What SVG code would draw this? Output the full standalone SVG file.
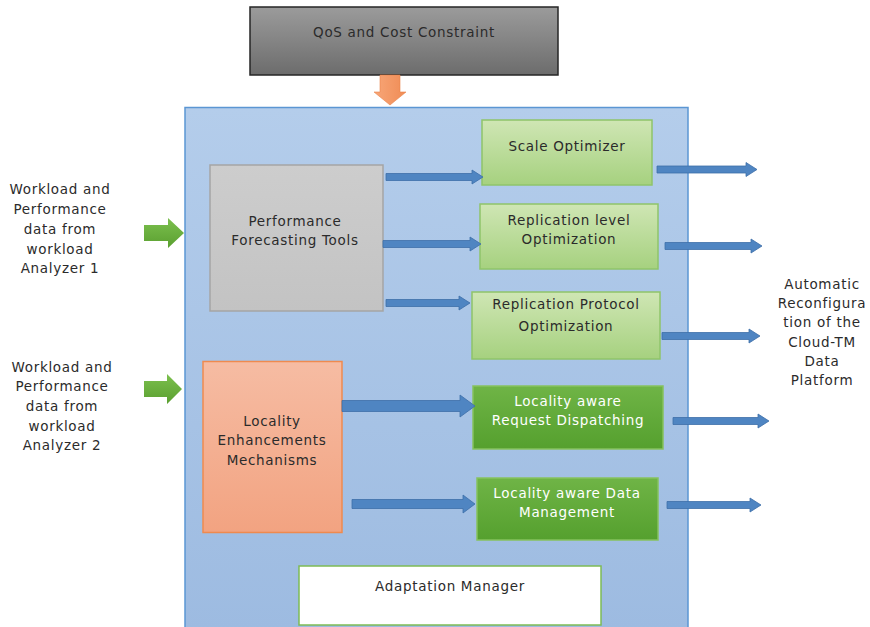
<svg xmlns="http://www.w3.org/2000/svg" width="870" height="627" viewBox="0 0 870 627">
  <defs>
    <linearGradient id="gTop" x1="0" y1="0" x2="0" y2="1">
      <stop offset="0" stop-color="#9b9b9b"/>
      <stop offset="0.5" stop-color="#848484"/>
      <stop offset="1" stop-color="#6c6c6c"/>
    </linearGradient>
    <linearGradient id="gFrame" x1="0" y1="0" x2="0" y2="1">
      <stop offset="0" stop-color="#b4cdeb"/>
      <stop offset="1" stop-color="#9dbbe1"/>
    </linearGradient>
    <linearGradient id="gLight" x1="0" y1="0" x2="0" y2="1">
      <stop offset="0" stop-color="#cfe6b4"/>
      <stop offset="1" stop-color="#a6d17f"/>
    </linearGradient>
    <linearGradient id="gDark" x1="0" y1="0" x2="0" y2="1">
      <stop offset="0" stop-color="#6fb446"/>
      <stop offset="1" stop-color="#55a02e"/>
    </linearGradient>
    <linearGradient id="gOrange" x1="0" y1="0" x2="0" y2="1">
      <stop offset="0" stop-color="#f6bca3"/>
      <stop offset="1" stop-color="#f2a381"/>
    </linearGradient>
    <linearGradient id="gGray" x1="0" y1="0" x2="0" y2="1">
      <stop offset="0" stop-color="#cdcdcd"/>
      <stop offset="1" stop-color="#c3c3c3"/>
    </linearGradient>
    <linearGradient id="gIn" x1="0" y1="0" x2="0" y2="1">
      <stop offset="0" stop-color="#7cc04e"/>
      <stop offset="1" stop-color="#5a9f30"/>
    </linearGradient>
    <linearGradient id="gDown" x1="0" y1="0" x2="1" y2="0">
      <stop offset="0" stop-color="#f7a678"/>
      <stop offset="1" stop-color="#f08c55"/>
    </linearGradient>
  </defs>
  <style>
    text { font-family: "DejaVu Sans", "Liberation Sans", sans-serif; font-size: 13.5px; letter-spacing: 0.7px; fill: #2b2b2b; text-anchor: middle; }
    .wt { fill: #ffffff; }
    .light { fill: url(#gLight); stroke: #8fc46a; stroke-width: 1.5; }
    .dark { fill: url(#gDark); stroke: #86c25e; stroke-width: 1.5; }
    .blue { fill: #4f85c2; stroke: #3d6fa8; stroke-width: 0.8; }
    .green { fill: url(#gIn); stroke: none; }
  </style>

  <rect width="870" height="627" fill="#ffffff"/>

  <!-- outer adaptation block -->
  <g id="frame">
    <rect x="185" y="107.5" width="503" height="522" fill="url(#gFrame)" stroke="#5b96d3" stroke-width="1.5"/>
  </g>

  <g id="qos">
    <rect x="250" y="7" width="308" height="68" fill="url(#gTop)" stroke="#262626" stroke-width="1.5"/>
    <text x="404" y="37">QoS and Cost Constraint</text>
  </g>

  <g id="forecasting">
    <rect x="210" y="165" width="173" height="146" fill="url(#gGray)" stroke="#a5a5a5" stroke-width="1.5"/>
    <text x="295" y="226">Performance</text>
    <text x="295" y="245">Forecasting Tools</text>
  </g>

  <g id="locality">
    <rect x="203" y="361.5" width="139" height="171" fill="url(#gOrange)" stroke="#ef8a4f" stroke-width="1.5"/>
    <text x="272" y="426">Locality</text>
    <text x="272" y="445">Enhancements</text>
    <text x="272" y="465">Mechanisms</text>
  </g>

  <g id="scale">
    <rect x="482" y="120" width="170" height="65" class="light"/>
    <text x="567" y="151">Scale Optimizer</text>
  </g>

  <g id="replevel">
    <rect x="480" y="204" width="178" height="65" class="light"/>
    <text x="569" y="225">Replication level</text>
    <text x="569" y="244">Optimization</text>
  </g>

  <g id="repproto">
    <rect x="472" y="292" width="188" height="67" class="light"/>
    <text x="566" y="309">Replication Protocol</text>
    <text x="566" y="331">Optimization</text>
  </g>

  <g id="dispatch">
    <rect x="473" y="386" width="190" height="63" class="dark"/>
    <text x="568" y="406" class="wt">Locality aware</text>
    <text x="568" y="425" class="wt">Request Dispatching</text>
  </g>

  <g id="datamgmt">
    <rect x="477" y="478" width="181" height="62" class="dark"/>
    <text x="567" y="498" class="wt">Locality aware Data</text>
    <text x="567" y="517" class="wt">Management</text>
  </g>

  <g id="manager">
    <rect x="299" y="566" width="302" height="59" fill="#ffffff" stroke="#7dbb55" stroke-width="1.5"/>
    <text x="450" y="591">Adaptation Manager</text>
  </g>

  <g id="input1">
    <text x="60" y="194">Workload and</text>
    <text x="60" y="214">Performance</text>
    <text x="60" y="234">data from</text>
    <text x="60" y="254">workload</text>
    <text x="60" y="273">Analyzer 1</text>
  </g>

  <g id="input2">
    <text x="62" y="372">Workload and</text>
    <text x="62" y="391">Performance</text>
    <text x="62" y="411">data from</text>
    <text x="62" y="431">workload</text>
    <text x="62" y="450">Analyzer 2</text>
  </g>

  <g id="output">
    <text x="822" y="289">Automatic</text>
    <text x="822" y="308">Reconfigura</text>
    <text x="822" y="327">tion of the</text>
    <text x="822" y="347">Cloud-TM</text>
    <text x="822" y="366">Data</text>
    <text x="822" y="385">Platform</text>
  </g>

  <g id="connectors">
    <!-- constraint feed -->
    <path d="M380,75 L400,75 L400,92 L406,92 L390,105 L374,92 L380,92 Z" fill="url(#gDown)" stroke="#e9834a" stroke-width="0.6"/>
    <!-- workload inputs -->
    <path d="M144,225 L168,225 L168,218 L184,233 L168,248 L168,241 L144,241 Z" class="green"/>
    <path d="M144,381 L167,381 L167,374 L182,389 L167,404 L167,397 L144,397 Z" class="green"/>
    <!-- forecasting to optimizers -->
    <path d="M386,173.5 L472,173.5 L472,170 L483,177 L472,184 L472,180.5 L386,180.5 Z" class="blue"/>
    <path d="M383,240.5 L470,240.5 L470,237 L481,244 L470,251 L470,247.5 L383,247.5 Z" class="blue"/>
    <path d="M386,299.5 L459,299.5 L459,296 L470,303 L459,310 L459,306.5 L386,306.5 Z" class="blue"/>
    <!-- locality to locality-aware modules -->
    <path d="M342,400.5 L460,400.5 L460,395 L475,406 L460,417 L460,411.5 L342,411.5 Z" class="blue"/>
    <path d="M352,499.5 L463,499.5 L463,495 L475,504 L463,513 L463,508.5 L352,508.5 Z" class="blue"/>
    <!-- reconfiguration outputs -->
    <path d="M657,166 L746,166 L746,162.5 L757,169.5 L746,176.5 L746,173 L657,173 Z" class="blue"/>
    <path d="M665,242.5 L751,242.5 L751,239 L762,246 L751,253 L751,249.5 L665,249.5 Z" class="blue"/>
    <path d="M662,332.5 L749,332.5 L749,329 L760,336 L749,343 L749,339.5 L662,339.5 Z" class="blue"/>
    <path d="M673,417.5 L758,417.5 L758,414 L769,421 L758,428 L758,424.5 L673,424.5 Z" class="blue"/>
    <path d="M667,501.5 L750,501.5 L750,498 L761,505 L750,512 L750,508.5 L667,508.5 Z" class="blue"/>
  </g>
</svg>
